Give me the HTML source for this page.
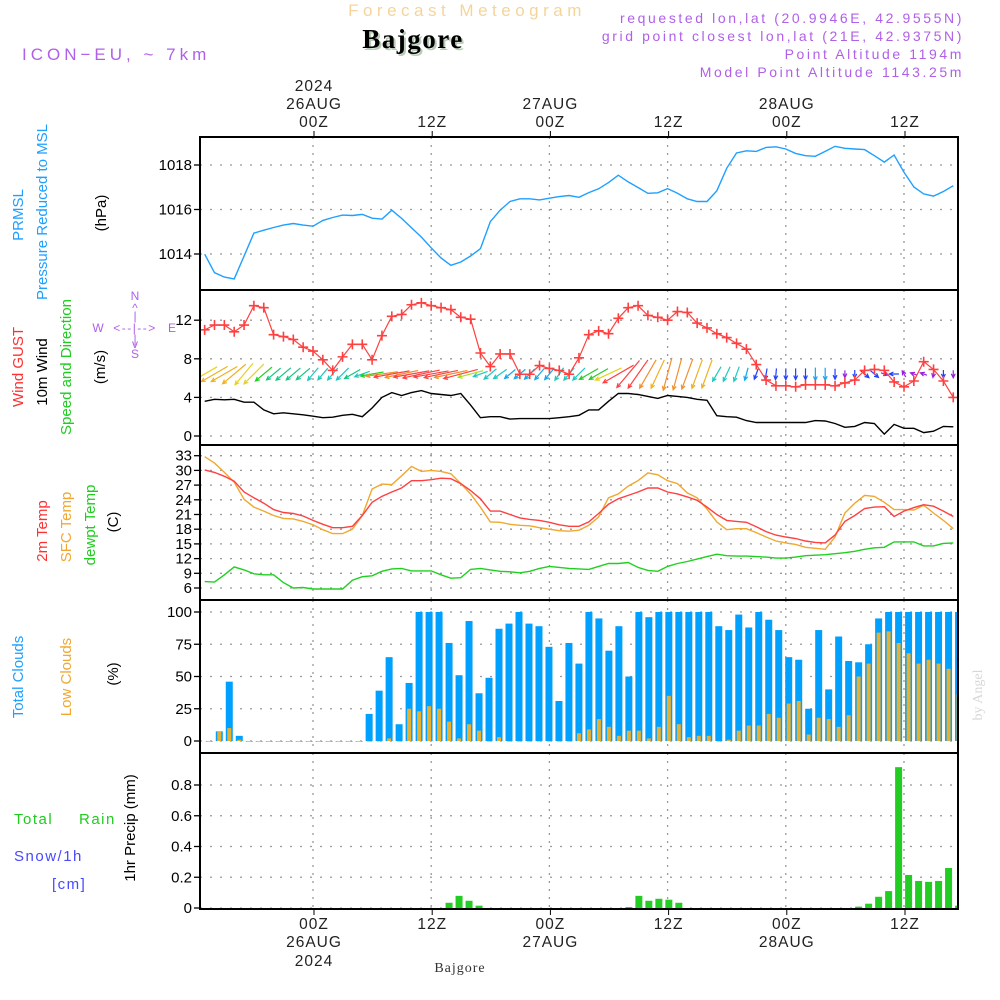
<!DOCTYPE html>
<html><head><meta charset="utf-8"><style>
body{margin:0;background:#fff}
svg{display:block}
text{font-family:"Liberation Sans",sans-serif}
</style></head><body>
<svg id="chart" width="1000" height="1000" viewBox="0 0 1000 1000" xmlns="http://www.w3.org/2000/svg">
<defs>
<clipPath id="c1"><rect x="200" y="137" width="758" height="153"/></clipPath>
<clipPath id="c2"><rect x="200" y="290" width="758" height="155"/></clipPath>
<clipPath id="c3"><rect x="200" y="445" width="758" height="155"/></clipPath>
<clipPath id="c4"><rect x="200" y="600" width="758" height="153"/></clipPath>
<clipPath id="c5"><rect x="200" y="753" width="758" height="156"/></clipPath>
</defs>
<rect width="1000" height="1000" fill="#fff"/>
<!-- header -->
<text x="467" y="16" text-anchor="middle" font-size="17" fill="#f5d49a" letter-spacing="4.5">Forecast Meteogram</text>
<text x="415" y="50" text-anchor="middle" font-size="27" font-weight="bold" fill="#b8ccb8" style="font-family:'Liberation Serif',serif" letter-spacing="1.5">Bajgore</text>
<text x="413" y="48" text-anchor="middle" font-size="27" font-weight="bold" fill="#000" style="font-family:'Liberation Serif',serif" letter-spacing="1.5">Bajgore</text>
<text x="22" y="60" font-size="17" fill="#b060e8" letter-spacing="4">ICON−EU,  ~  7km</text>
<g font-size="14" fill="#b060e8" text-anchor="end" letter-spacing="2.6">
<text x="964" y="23">requested lon,lat (20.9946E, 42.9555N)</text>
<text x="964" y="41">grid point closest lon,lat (21E, 42.9375N)</text>
<text x="964" y="59">Point Altitude 1194m</text>
<text x="964" y="77">Model Point Altitude 1143.25m</text>
</g>
<!-- left labels -->
<g font-size="15">
<text transform="rotate(-90 23 215)" x="23" y="215" text-anchor="middle" fill="#1ea0ff">PRMSL</text>
<text transform="rotate(-90 47 212)" x="47" y="212" text-anchor="middle" fill="#1ea0ff">Pressure Reduced to MSL</text>
<text transform="rotate(-90 106 213)" x="106" y="213" text-anchor="middle" fill="#000">(hPa)</text>
<text transform="rotate(-90 23 367)" x="23" y="367" text-anchor="middle" fill="#ff3030">Wind GUST</text>
<text transform="rotate(-90 47 372)" x="47" y="372" text-anchor="middle" fill="#000">10m Wind</text>
<text transform="rotate(-90 71 367)" x="71" y="367" text-anchor="middle" fill="#20cc20">Speed and Direction</text>
<text transform="rotate(-90 105 367)" x="105" y="367" text-anchor="middle" fill="#000">(m/s)</text>
<text transform="rotate(-90 47 531)" x="47" y="531" text-anchor="middle" fill="#ff3030">2m Temp</text>
<text transform="rotate(-90 71 527)" x="71" y="527" text-anchor="middle" fill="#f0a830">SFC Temp</text>
<text transform="rotate(-90 95 525)" x="95" y="525" text-anchor="middle" fill="#20cc20">dewpt Temp</text>
<text transform="rotate(-90 118 522)" x="118" y="522" text-anchor="middle" fill="#000">(C)</text>
<text transform="rotate(-90 23 677)" x="23" y="677" text-anchor="middle" fill="#1ea0ff">Total Clouds</text>
<text transform="rotate(-90 71 677)" x="71" y="677" text-anchor="middle" fill="#f0a830">Low Clouds</text>
<text transform="rotate(-90 118 674)" x="118" y="674" text-anchor="middle" fill="#000">(%)</text>
<text transform="rotate(-90 135 828)" x="135" y="828" text-anchor="middle" fill="#000">1hr Precip (mm)</text>
</g>
<g font-size="15" letter-spacing="1.5">
<text x="14" y="824" fill="#20cc20">Total</text>
<text x="79" y="824" fill="#20cc20">Rain</text>
<text x="14" y="861" fill="#4848ff">Snow/1h</text>
<text x="52" y="889" fill="#4848ff">[cm]</text>
</g>
<g font-size="12" fill="#b060e8" text-anchor="middle">
<text x="135" y="300">N</text><text x="135" y="312">^</text><text x="135" y="320">|</text>
<text x="98" y="332">W</text><text x="135" y="332" letter-spacing="1.5">&lt;--|--&gt;</text><text x="172" y="332">E</text>
<text x="135" y="343">|</text><text x="135" y="348">v</text><text x="135" y="358">S</text>
</g>
<text transform="rotate(-90 982 695)" x="982" y="695" text-anchor="middle" font-size="14" fill="#d8d8d8" style="font-family:'Liberation Serif',serif">by Angel</text>
<text x="460" y="972" text-anchor="middle" font-size="14" fill="#333" style="font-family:'Liberation Serif',serif" letter-spacing="1">Bajgore</text>
<g id="grid"></g>
<g id="marks"></g>
<g id="frame"></g>
</svg>
<script>
// ---- data (hourly, pressure/wind/temp from h=-11 to 65 relative to 26AUG 00Z) ----
const lineStartHour = -11;
const pressure = [1013.99,1013.16,1012.96,1012.88,1013.91,1014.94,1015.07,1015.19,1015.30,1015.37,1015.30,1015.25,1015.51,1015.64,1015.75,1015.73,1015.78,1015.61,1015.57,1015.97,1015.60,1015.18,1014.76,1014.28,1013.82,1013.49,1013.64,1013.91,1014.24,1015.45,1015.97,1016.36,1016.48,1016.48,1016.43,1016.51,1016.58,1016.63,1016.55,1016.76,1016.93,1017.21,1017.54,1017.24,1016.99,1016.73,1016.75,1016.94,1016.73,1016.48,1016.36,1016.36,1016.84,1017.85,1018.54,1018.64,1018.61,1018.79,1018.82,1018.72,1018.52,1018.42,1018.39,1018.61,1018.84,1018.75,1018.72,1018.69,1018.42,1018.13,1018.45,1017.67,1017.01,1016.70,1016.60,1016.81,1017.07];
const windGust = [11.0,11.5,11.5,10.8,11.5,13.5,13.3,10.5,10.3,10.0,9.2,8.8,7.9,6.8,8.2,9.5,9.5,7.9,10.4,12.4,12.6,13.6,13.8,13.5,13.3,13.1,12.3,12.1,8.6,7.2,8.5,8.5,6.4,6.4,7.3,7.0,6.8,6.4,8.1,
10.5,10.9,10.6,12.2,13.3,13.5,12.5,12.3,12.0,12.9,12.8,11.7,11.2,10.6,10.2,9.6,9.0,7.4,5.8,5.2,5.2,5.1,5.3,5.3,5.3,5.2,5.5,5.8,6.8,6.9,6.8,5.6,5.1,5.7,7.7,6.9,5.7,4.0];
const wind10m = [3.6,3.8,3.75,3.8,3.5,3.5,2.7,2.3,2.4,2.3,2.2,2.05,1.9,1.95,2.15,2.25,2.0,2.9,4.0,4.5,4.2,4.5,4.7,4.4,4.3,4.2,4.4,3.2,1.9,2.0,2.0,1.75,1.8,1.8,1.8,1.8,1.9,2.0,2.15,
2.7,2.7,3.6,4.4,4.4,4.3,4.1,3.9,4.2,4.1,4.0,3.8,3.7,2.1,2.0,1.95,1.6,1.4,1.4,1.4,1.4,1.4,1.4,1.6,1.55,1.3,0.9,1.0,1.4,1.3,0.2,1.2,0.8,0.8,0.35,0.5,1.0,0.95];
const windDir = [150,150,150,140,130,135,140,140,140,140,140,130,130,130,135,150,160,170,172,170,168,170,168,170,168,168,165,165,160,140,145,140,140,135,130,130,125,130,135,
150,150,155,150,130,125,120,115,105,105,110,110,110,120,115,110,105,110,100,95,90,90,90,90,90,90,90,90,40,40,20,180,240,200,200,100,90,90];
const temp2m = [30.1,29.6,28.8,27.8,25.6,24.4,23.3,22.0,21.4,21.2,20.7,19.8,19.0,18.3,18.3,18.6,20.8,23.5,24.7,25.6,26.4,27.9,27.9,28.1,28.4,28.3,27.3,25.9,24.2,21.7,21.7,21.0,20.3,20.0,19.8,19.4,18.9,18.6,18.6,
19.5,21.2,23.1,24.2,24.9,25.6,26.4,26.4,25.6,25.2,24.6,23.9,22.5,21.0,19.8,19.6,19.4,18.5,17.5,16.8,16.4,16.1,15.6,15.3,15.2,16.8,19.6,20.8,22.2,22.5,22.6,20.6,21.7,22.4,23.0,22.7,21.7,20.6];
const tempSfc = [32.8,31.5,29.6,27.6,24.1,22.5,21.7,20.8,20.2,20.1,19.6,18.9,17.9,17.1,17.1,18.0,20.8,26.2,27.2,27.1,28.9,30.8,29.8,30.0,29.8,29.3,27.3,25.2,22.5,19.5,19.4,19.0,18.8,18.7,18.3,18.0,17.7,17.6,17.8,
18.8,20.5,24.4,25.2,26.8,27.9,29.5,29.1,27.9,27.3,25.4,24.4,22.1,19.5,17.9,18.1,18.1,17.3,16.4,15.6,15.2,14.9,14.3,14.1,13.9,16.4,21.3,23.3,24.9,24.7,23.5,22.0,22.0,21.9,22.9,21.3,19.8,18.1];
const dewpt = [7.3,7.2,8.7,10.3,9.7,8.9,8.7,8.7,7.1,6.0,6.1,5.8,5.8,5.8,5.8,7.6,8.3,8.5,9.4,9.9,10.0,9.5,9.5,9.5,8.7,8.0,8.1,9.8,10.0,9.7,9.4,9.3,9.1,9.4,10.0,10.4,10.2,10.0,9.9,
9.8,10.4,11.0,11.0,11.2,10.2,9.6,9.4,10.4,11.0,11.4,11.9,12.4,12.9,12.6,12.5,12.5,12.4,12.3,12.1,12.1,12.3,12.6,12.7,12.8,13.0,13.2,13.5,13.9,14.2,14.3,15.4,15.4,15.4,14.6,14.6,15.1,15.2];
// bars from h=-10 to 65
const barStartHour = -10;
const totalClouds = [0,7.5,46,4,0,0,0,0,0,0,0,0,0,0,0,0,21,39,65,13,45,100,100,100,76,51,93,37,49,87,91,100,91,89,73,31,76,60,
100,95,70,89,50,100,96,100,100,100,100,100,100,89,86,98,88,100,94,86,65,63,25,86,40,81,62,61,75,95,100,100,100,100,100,100,100,100];
const lowClouds = [0,7.5,10,1,0,0,0,0,0,0,0,0,0,0,0,0,0,0,2,0,25,23,27,25,15,2,13,8,0,3,0,0,0,0,0,0,0,6,
9,17,11,4,8,8,2,11,35,13,3,4,4,0,1,8,12,12,21,18,29,31,5,18,17,11,20,50,60,84,85,76,68,60,63,60,56,36];
const precip = [0,0,0,0,0,0,0,0,0,0,0,0,0,0,0,0,0,0,0,0,0,0,0,0,0.034,0.079,0.047,0.015,0,0,0,0,0,0,0,0,0,0,
0,0,0,0,0.006,0.079,0.047,0.06,0.054,0.034,0,0,0,0,0,0,0,0,0,0,0,0,0,0,0,0,0,0.009,0.028,0.073,0.11,0.916,0.215,0.176,0.17,0.176,0.26,0.015];
const pTicks = [1014,1016,1018];
const wTicks = [0,4,8,12];
const tTicks = [6,9,12,15,18,21,24,27,30,33];
const cTicks = [0,25,50,75,100];
const rTicks = [0,0.2,0.4,0.6,0.8];
const timeTicksHours = [0,12,24,36,48,60];
const timeLabels = ["00Z","12Z","00Z","12Z","00Z","12Z"];
const dateLabels = ["26AUG","","27AUG","","28AUG",""];

// ---- axes ----
const X0=200,X1=958;
const xOf = h => 313 + h*9.85;
const xBar = h => 309.2 + h*9.99;
const yP = v => 254 - (v-1014)*22.25;
const yW = v => 436 - v*9.65;
const yT = v => 588 - (v-6)*4.9;
const yC = v => 741 - v*1.29;
const yR = v => 908 - v*153.75;
const NS='http://www.w3.org/2000/svg';
function mk(parent,tag,attrs){const e=document.createElementNS(NS,tag);for(const k in attrs)e.setAttribute(k,attrs[k]);parent.appendChild(e);return e;}
const grid=document.getElementById('grid'), marks=document.getElementById('marks'), frame=document.getElementById('frame');
const panels=[[137,290,pTicks,yP,v=>v],[290,445,wTicks,yW,v=>v],[445,600,tTicks,yT,v=>v],[600,753,cTicks,yC,v=>v],[753,909,rTicks,yR,v=>v===0?'0':v.toFixed(1)]];
panels.forEach((p,i)=>{
  p[2].forEach(v=>{
    const y=p[3](v);
    const gl=mk(grid,'line',{x1:X0,x2:X1,y1:y,y2:y,stroke:'#999','stroke-width':1.3,'stroke-dasharray':'2 8'});
    
    
    const tk=mk(frame,'line',{x1:X0-6,x2:X0,y1:y,y2:y,stroke:'#000','stroke-width':1.3});
    
    
    const tl=mk(frame,'text',{x:X0-8,y:y+5,'text-anchor':'end','font-size':15,fill:'#000'});
    
    
    tl.textContent=p[4](v);
  });
  timeTicksHours.forEach(h=>{
    const vl=mk(grid,'line',{x1:xOf(h),x2:xOf(h),y1:p[0],y2:p[1],stroke:'#999','stroke-width':1.3,'stroke-dasharray':'2 6'});
    
    
  });
});
timeTicksHours.forEach((h,i)=>{
  const x=xOf(h)+1;
  const t1=mk(frame,'line',{x1:x,x2:x,y1:131,y2:137,stroke:'#000'});
  
  
  const t2=mk(frame,'line',{x1:x,x2:x,y1:909,y2:915,stroke:'#000'});
  
  
  const lab=[[timeLabels[i],127,929],[dateLabels[i],109,947]];
  lab.forEach(([s,yt,yb])=>{ if(!s)return;
    const a=mk(frame,'text',{x:x,y:yt,'text-anchor':'middle','font-size':15.5,fill:'#222','letter-spacing':1});
    
    
    a.textContent=s;
    const b=mk(frame,'text',{x:x,y:yb,'text-anchor':'middle','font-size':15.5,fill:'#222','letter-spacing':1});
    
    
    b.textContent=s;
  });
  if(h===0){
    const a=mk(frame,'text',{x:x,y:91,'text-anchor':'middle','font-size':15.5,fill:'#222','letter-spacing':1});
    
    
    a.textContent='2024';
    const b=mk(frame,'text',{x:x,y:966,'text-anchor':'middle','font-size':15.5,fill:'#222','letter-spacing':1});
    
    
    b.textContent='2024';
  }
});
// frame
[[137,290],[290,445],[445,600],[600,753],[753,909]].forEach(([a,b])=>{
  const r=mk(frame,'rect',{x:X0,y:a,width:X1-X0,height:b-a,fill:'none',stroke:'#000','stroke-width':2});
  
  
});

function linePath(arr,yf,start){return arr.map((v,i)=>(i?'L':'M')+xOf(start+i).toFixed(1)+' '+yf(v).toFixed(1)).join(' ');}
// pressure
const gP=mk(marks,'g',{'clip-path':'url(#c1)'});
const pl=mk(gP,'path',{d:linePath(pressure,yP,lineStartHour),fill:'none',stroke:'#1ea0ff','stroke-width':1.4});


// wind
const gW=mk(marks,'g',{'clip-path':'url(#c2)'});
function spdColor(s){ if(s<1)return '#9a20e0'; if(s<1.5)return '#2040ff'; if(s<1.9)return '#10a8f0'; if(s<2.2)return '#20c8c0'; if(s<2.5)return '#10c880'; if(s<3)return '#20d020'; if(s<3.3)return '#a8e020'; if(s<3.7)return '#e8d020'; if(s<4)return '#f0b020'; if(s<4.3)return '#f09030'; return '#ff4040';}
windDir.forEach((d,i)=>{
  const s=wind10m[i], L=Math.max(7,s*8), a=d*Math.PI/180;
  const cx=xOf(lineStartHour+i), cy=374;
  const dx=Math.cos(a)*L/2, dy=Math.sin(a)*L/2;
  const hx=cx+dx, hy=cy+dy, col=spdColor(s);
  const g=mk(gW,'g',{stroke:col,'stroke-width':1.2,fill:'none'});
  
  
  const ha=4.5, sp=0.45;
  mk(g,'path',{d:`M${cx-dx} ${cy-dy} L${hx} ${hy} M${hx-ha*Math.cos(a-sp)} ${hy-ha*Math.sin(a-sp)} L${hx} ${hy} L${hx-ha*Math.cos(a+sp)} ${hy-ha*Math.sin(a+sp)}`});
});
const wl=mk(gW,'path',{d:linePath(wind10m,yW,lineStartHour),fill:'none',stroke:'#000','stroke-width':1.4});


const gl2=mk(gW,'path',{d:linePath(windGust,yW,lineStartHour),fill:'none',stroke:'#ff4040','stroke-width':1.2});


windGust.forEach((v,i)=>{
  const x=xOf(lineStartHour+i), y=yW(v);
  const m=mk(gW,'path',{d:`M${x-5} ${y}H${x+5}M${x} ${y-5}V${y+5}`,stroke:'#ff4040','stroke-width':1.6});
  
  
});
// temps
const gT=mk(marks,'g',{'clip-path':'url(#c3)'});
[[dewpt,'#20d020','dewpoint-line'],[tempSfc,'#f0a830','sfc-temp-line'],[temp2m,'#ff4040','temp-2m-line']].forEach(([arr,c,n])=>{
  const p=mk(gT,'path',{d:linePath(arr,yT,lineStartHour),fill:'none',stroke:c,'stroke-width':1.4});
  
  
});
// clouds
const gC=mk(marks,'g',{'clip-path':'url(#c4)'});
totalClouds.forEach((v,i)=>{
  const x=xBar(barStartHour+i);
  const r=mk(gC,'rect',{x:x-3.5,y:yC(v),width:7,height:Math.max(0.6,yC(0)-yC(v)),fill:'#00a0ff'});
  
  
});
lowClouds.forEach((v,i)=>{
  const x=xBar(barStartHour+i);
  const r=mk(gC,'rect',{x:x-2,y:yC(v),width:4,height:Math.max(0.6,yC(0)-yC(v)),fill:'#e8b030'});
  
  
});
// precip
const gR=mk(marks,'g',{'clip-path':'url(#c5)'});
precip.forEach((v,i)=>{
  const x=xBar(barStartHour+i);
  const r=mk(gR,'rect',{x:x-3.5,y:yR(v),width:7,height:Math.max(0.8,yR(0)-yR(v)),fill:'#22cc22'});
  
  
});
</script>
</body></html>
